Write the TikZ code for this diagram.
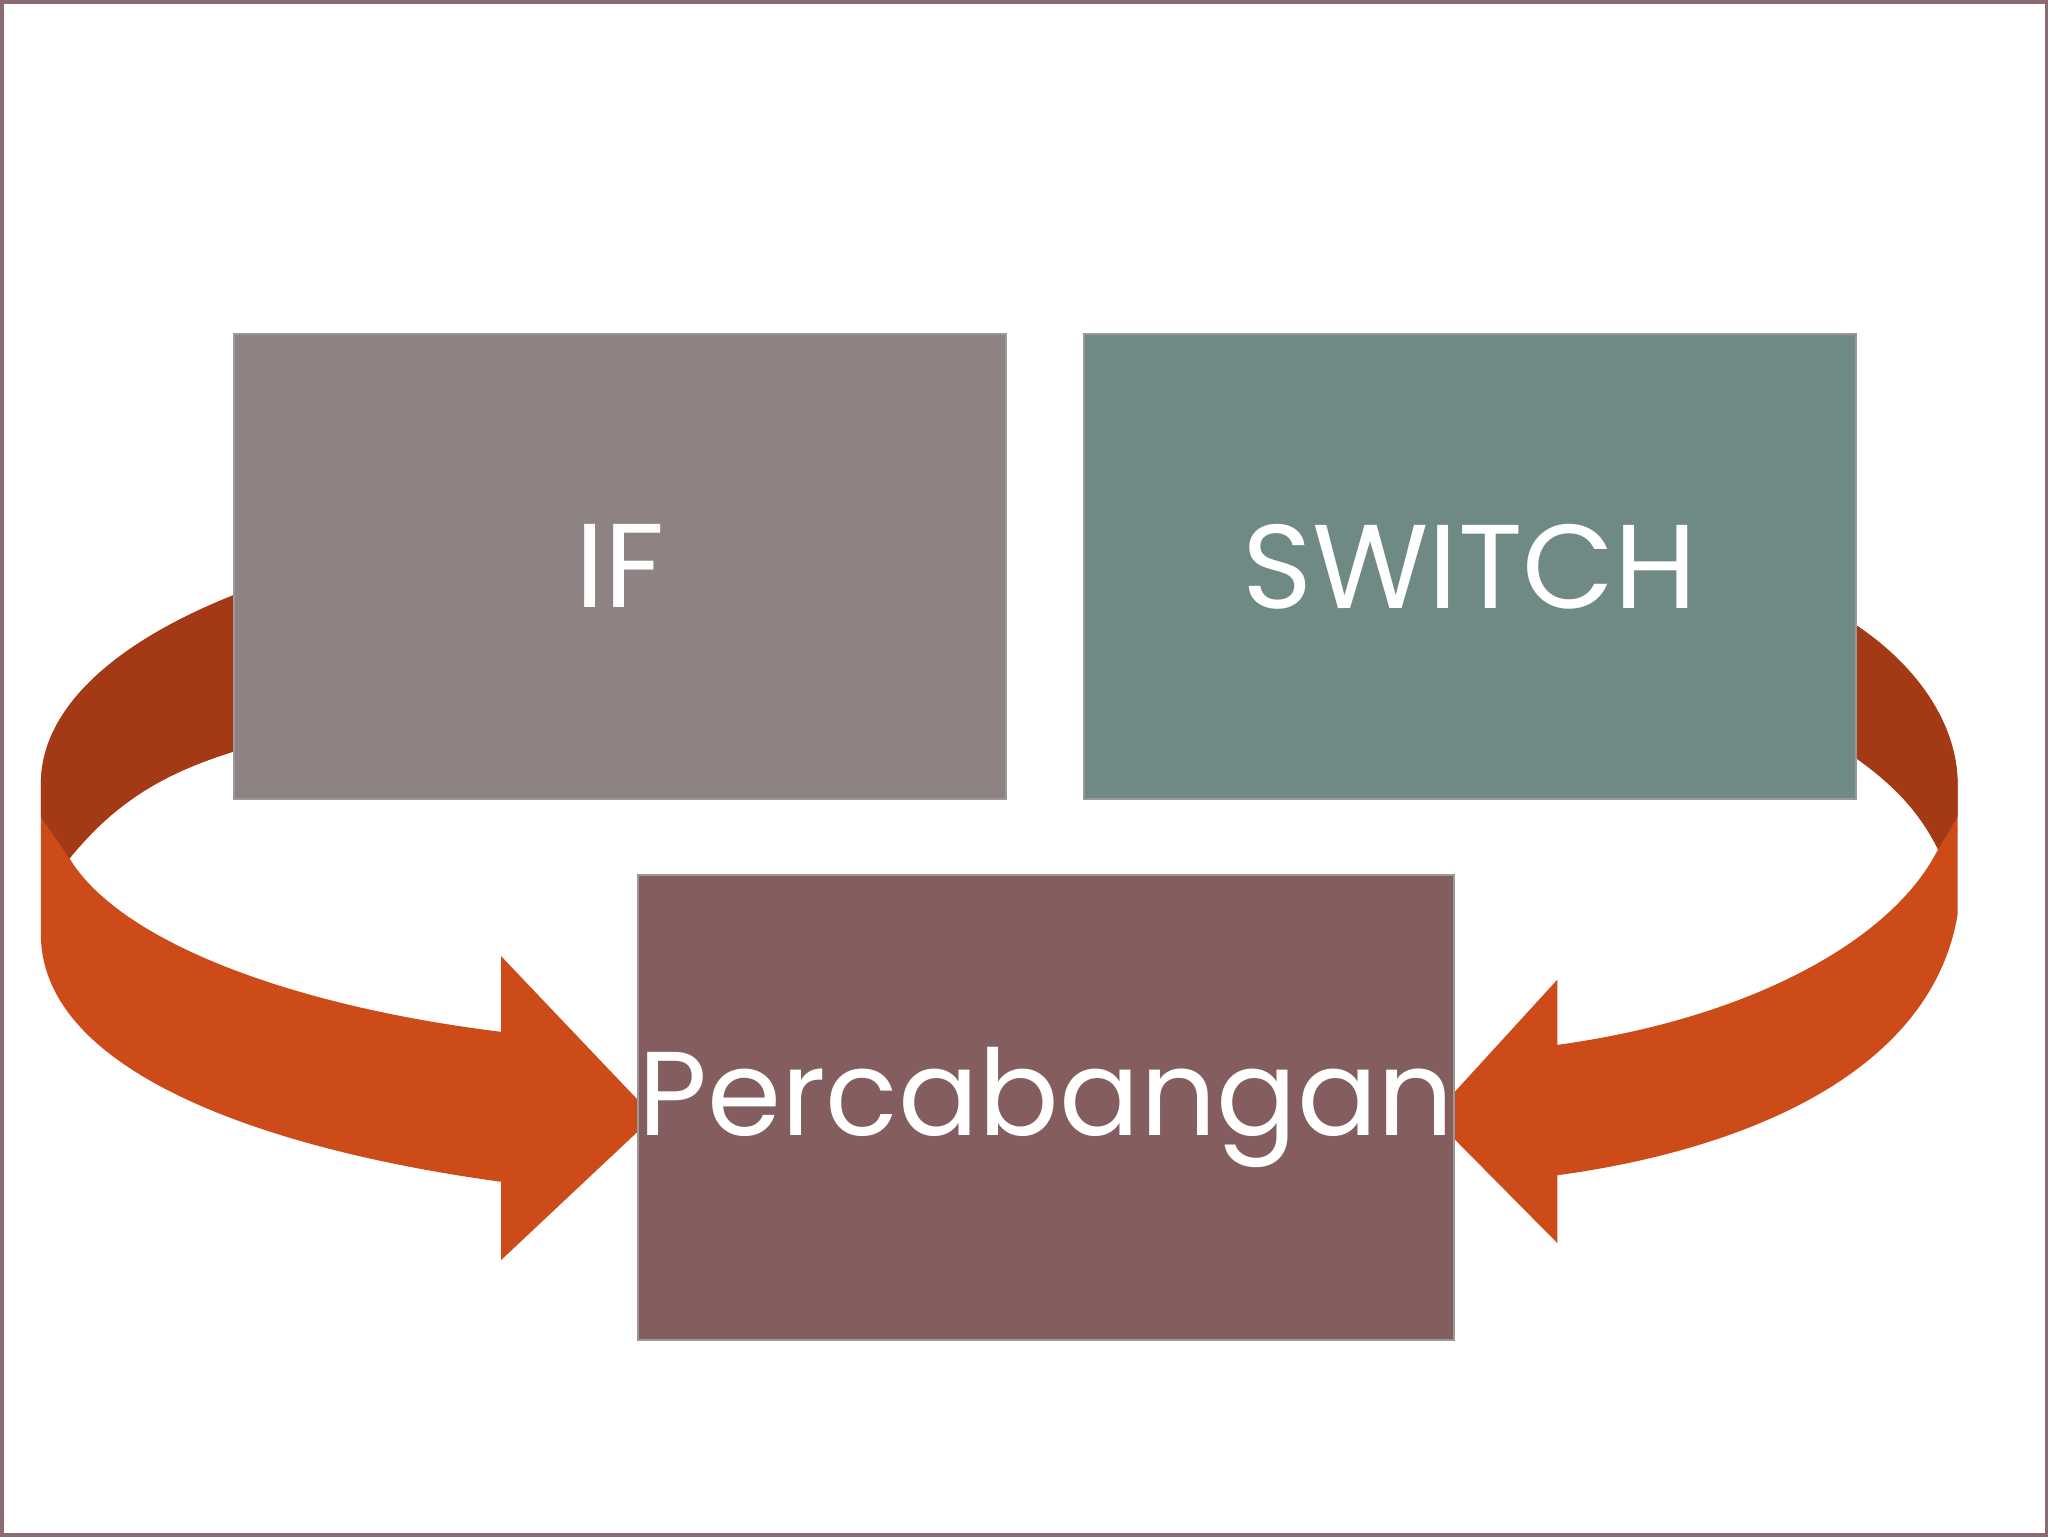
\documentclass[tikz,border=0pt]{standalone}
\usepackage{fontspec}
\setmainfont{Poppins}
\definecolor{ifc}{HTML}{8E8283}
\definecolor{swc}{HTML}{6F8A85}
\definecolor{pcc}{HTML}{845E5E}
\definecolor{arrc}{HTML}{CD4A19}
\definecolor{arrd}{HTML}{A33A15}
\definecolor{frame}{HTML}{8B6B6F}
\begin{document}
\begin{tikzpicture}[x=0.013061cm,y=-0.013061cm,
  box/.style={draw=white!60!black,line width=0.6pt,minimum width=592*0.013061cm,minimum height=357*0.013061cm,text=white,font=\fontsize{34}{40}\selectfont,inner sep=0pt},
  band/.style={fill=arrc},
  bandtop/.style={fill=arrd}]
\path[fill=white,draw=frame,line width=1pt] (0,0) rectangle (1568,1176);
% left arrow
\path[band] (178,455) .. controls (90,490) and (30,540) .. (30,600) -- (30,715) .. controls (30,820) and (200,880) .. (383,905) -- (383,965) -- (500,855) -- (383,732) -- (383,790) .. controls (220,770) and (90,720) .. (52,657) .. controls (90,610) and (130,590) .. (178,575) -- cycle;
\path[bandtop] (178,455) .. controls (90,490) and (30,540) .. (30,600) -- (30,625) -- (52,657) .. controls (90,610) and (130,590) .. (178,575) -- cycle;
% right arrow
\path[band] (1422,478) .. controls (1470,510) and (1500,555) .. (1500,600) -- (1500,700) .. controls (1480,820) and (1340,880) .. (1193,900) -- (1193,952) -- (1097,855) -- (1193,750) -- (1193,800) .. controls (1340,780) and (1450,720) .. (1485,650) .. controls (1470,620) and (1450,600) .. (1422,580) -- cycle;
\path[bandtop] (1422,478) .. controls (1470,510) and (1500,555) .. (1500,600) -- (1500,625) -- (1485,650) .. controls (1470,620) and (1450,600) .. (1422,580) -- cycle;
\node[box,fill=ifc] (if) at (474,433) {IF};
\node[box,fill=swc] (sw) at (1126,433) {SWITCH};
\node[box,fill=pcc] (pc) at (801,848) {Percabangan};
\end{tikzpicture}
\end{document}
